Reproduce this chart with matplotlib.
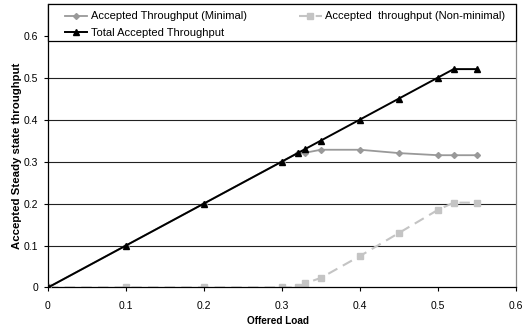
import matplotlib
matplotlib.use("Agg")
import matplotlib.pyplot as plt
from matplotlib.patches import Rectangle

plt.rcParams['font.family'] = ['Liberation Sans', 'DejaVu Sans']

load_total = [0, 0.1, 0.2, 0.3, 0.32, 0.33, 0.35, 0.4, 0.45, 0.5, 0.52, 0.55]
total = [0, 0.1, 0.2, 0.3, 0.32, 0.33, 0.35, 0.4, 0.45, 0.5, 0.52, 0.52]

load_min = [0, 0.1, 0.2, 0.3, 0.32, 0.33, 0.35, 0.4, 0.45, 0.5, 0.52, 0.55]
minimal = [0, 0.1, 0.2, 0.3, 0.32, 0.321, 0.328, 0.328, 0.32, 0.315, 0.315, 0.315]

load_nonmin = [0, 0.1, 0.2, 0.3, 0.32, 0.33, 0.35, 0.4, 0.45, 0.5, 0.52, 0.55]
nonminimal = [0, 0, 0, 0, 0, 0.01, 0.023, 0.075, 0.13, 0.185, 0.202, 0.202]

xticks = [0, 0.1, 0.2, 0.3, 0.4, 0.5, 0.6]
yticks = [0, 0.1, 0.2, 0.3, 0.4, 0.5, 0.6]
tick_labels = ['0', '0.1', '0.2', '0.3', '0.4', '0.5', '0.6']

fig = plt.figure(figsize=(5.32, 3.35), dpi=100)
ax = fig.add_axes([0.0902, 0.1418, 0.8798, 0.8462])

for y in yticks[1:]:
    ax.axhline(y, color='#222222', lw=0.8, zorder=1)

l1, = ax.plot(load_min, minimal, color='#999999', lw=1.3, marker='D', ms=3,
              zorder=3, label='Accepted Throughput (Minimal)')
l3, = ax.plot(load_nonmin, nonminimal, color='#c4c4c4', lw=1.5, ls=(0, (5, 3)),
              marker='s', ms=4, zorder=2, label='Accepted  throughput (Non-minimal)')
l2, = ax.plot(load_total, total, color='black', lw=1.4, marker='^', ms=5,
              zorder=4, label='Total Accepted Throughput')

ax.set_xlim(0, 0.6)
ax.set_ylim(0, 0.675)
ax.set_xticks(xticks)
ax.set_xticklabels(tick_labels)
ax.set_yticks(yticks)
ax.set_yticklabels(tick_labels)
ax.tick_params(axis='x', labelsize=7.5, length=3, width=0.8, color='black', pad=7)
ax.tick_params(axis='y', labelsize=7.5, length=3, width=0.8, color='black', pad=4)

for s in ['left', 'bottom']:
    ax.spines[s].set_color('black')
    ax.spines[s].set_linewidth(0.9)
for s in ['top', 'right']:
    ax.spines[s].set_color('#888888')
    ax.spines[s].set_linewidth(0.9)

ax.set_xlabel('Offered Load', fontsize=7.2, fontweight='bold')
ax.xaxis.set_label_coords(0.491, -0.102)
ax.set_ylabel('Accepted Steady state throughput', fontsize=8.2, fontweight='bold')
ax.yaxis.set_label_coords(-0.056, 0.464)

# legend box across the top of the plot area
box = Rectangle((0, 0.8695), 1, 0.1305, transform=ax.transAxes, facecolor='white',
                edgecolor='black', lw=0.9, zorder=9, clip_on=False)
ax.add_patch(box)

leg = ax.legend(handles=[l1, l2, l3], ncol=2, loc='upper left',
                bbox_to_anchor=(0.1222, 0.966), bbox_transform=fig.transFigure,
                fontsize=8, frameon=False, handlelength=2.0, handletextpad=0.3,
                labelspacing=0.55, columnspacing=4.75, borderpad=0, borderaxespad=0)
leg.set_zorder(10)

fig.savefig('out.png', dpi=100)
